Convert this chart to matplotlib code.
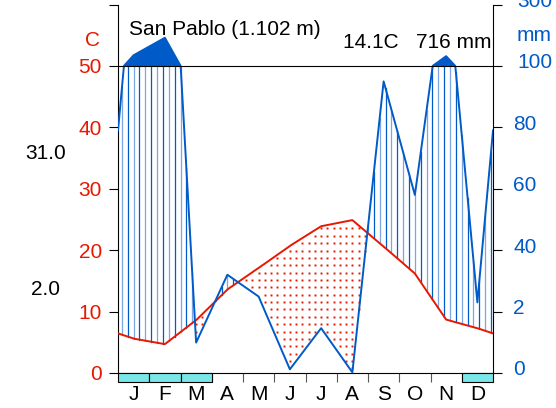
import numpy as np
import matplotlib
matplotlib.use('Agg')
import matplotlib.pyplot as plt
from matplotlib.patches import Rectangle

# monthly climate normals, San Pablo
months = ['J', 'F', 'M', 'A', 'M', 'J', 'J', 'A', 'S', 'O', 'N', 'D']
temp = [5.6, 4.7, 8.6, 13.6, 17.1, 20.7, 23.9, 24.9, 20.6, 16.2, 8.7, 7.3]
prec = [135, 192, 9.9, 32, 24.9, 1.2, 14.6, 0.2, 95, 58, 132, 23]
frost = [1, 1, 1, 0, 0, 0, 0, 0, 0, 0, 0, 1]
left_labels = ['0', '10', '20', '30', '40', '50']
right_labels = ['0', '2', '40', '60', '80', '100', '300']
station = 'San Pablo (1.102 m)'
summary = '14.1C   716 mm'
tmax_label = '31.0'
tmin_label = '2.0'

tcol = '#e81800'
pcol = '#005ac8'
frost_col = '#79e6e8'

plt.rcParams['font.family'] = ['Liberation Sans', 'DejaVu Sans']


def pscale(p):
    # 0-100 mm -> 0-50 C, above 100 mm compressed 1/10
    p = np.asarray(p, float)
    return np.where(p > 100, 50 + (p - 100) / 20.0, p / 2.0)


xm = np.arange(-0.5, 13)
tx = np.r_[temp[-1], temp, temp[0]]
px = np.r_[prec[-1], prec, prec[0]]

xf = np.linspace(0, 12, 1201)
tf = np.interp(xf, xm, tx)
pf = pscale(np.interp(xf, xm, px))

fig = plt.figure(figsize=(5.56, 4.08), dpi=100)
ax = fig.add_axes([118 / 556, (408 - 382.2) / 408, 375 / 556, (382.2 - 4.6) / 408])
ax.set_xlim(0, 12)
ax.set_ylim(-1.5, 60)

# humid period: vertical lines
xh = 0.125 + 0.1875 * np.arange(64)
th = np.interp(xh, xm, tx)
ph = pscale(np.interp(xh, xm, px))
for i, (x, a, b) in enumerate(zip(xh, th, ph)):
    if b > a:
        c = pcol if i % 2 else '#7ba6e2'
        ax.plot([x, x], [a, min(b, 50)], color=c, lw=0.9, zorder=2)

# dry period: dots
xd = 0.1 + 0.2 * np.arange(60)
yd = 0.75 + 1.2 * np.arange(25)
gx, gy = np.meshgrid(xd, yd)
gt = np.interp(gx, xm, tx)
gp = pscale(np.interp(gx, xm, px))
m = (gy < gt - 0.3) & (gy > gp + 0.3)
ax.plot(gx[m], gy[m], 's', color=tcol, ms=1.4, mew=0, zorder=2)

# very wet months above 100 mm
ax.fill_between(xf, 50, pf, where=pf > 50, color=pcol, lw=0, zorder=3)

ax.plot(xf, tf, color=tcol, lw=1.4, zorder=4)
ax.plot(xf, pf, color=pcol, lw=1.4, zorder=4)
ax.axhline(50, color='black', lw=0.8, zorder=5)

for i, f in enumerate(frost):
    if f:
        ax.add_patch(Rectangle((i, -1.5), 1, 1.5, fc=frost_col, ec='black',
                               lw=0.8, clip_on=False, zorder=6))

ax.spines['top'].set_visible(False)
ax.spines['bottom'].set_position(('data', 0))
ax.spines['left'].set_bounds(0, 60)
ax.spines['right'].set_bounds(0, 60)
for s in ax.spines.values():
    s.set_linewidth(0.8)

ax.set_yticks([0, 10, 20, 30, 40, 50, 60])
ax.set_yticklabels(left_labels + [''])
ax.tick_params(axis='y', left=True, right=True, length=6.5, width=0.8,
               labelcolor=tcol, labelsize=15, pad=5)
ax.set_xticks(range(1, 12))
ax.set_xticklabels([])
ax.tick_params(axis='x', length=6.5, width=0.8, color='#555555')

ax.text(-0.83, 54.2, 'C', color=tcol, fontsize=15, ha='center', va='center')
rx = [12.64, 12.64, 12.64, 12.64, 12.64, 12.77, 12.77]
for lab, y, x in zip(right_labels, [0, 10, 20, 30, 40, 50, 60], rx):
    ax.text(x, y + 0.5, lab, color=pcol, fontsize=15, ha='left', va='center',
            clip_on=False)
ax.text(12.77, 54.9, 'mm', color=pcol, fontsize=15, ha='left', va='center')

ax.text(0.35, 55.05, station, fontsize=15, ha='left', va='baseline')
ax.text(11.94, 52.9, summary, fontsize=15, ha='right', va='baseline')
ax.text(-2.32, 35.7, tmax_label, fontsize=15, ha='center', va='center')
ax.text(-2.32, 13.6, tmin_label, fontsize=15, ha='center', va='center')

for i, mth in enumerate(months):
    ax.text(i + 0.5, -3.58, mth, fontsize=15, ha='center', va='center')

fig.savefig('out.png', dpi=100)
